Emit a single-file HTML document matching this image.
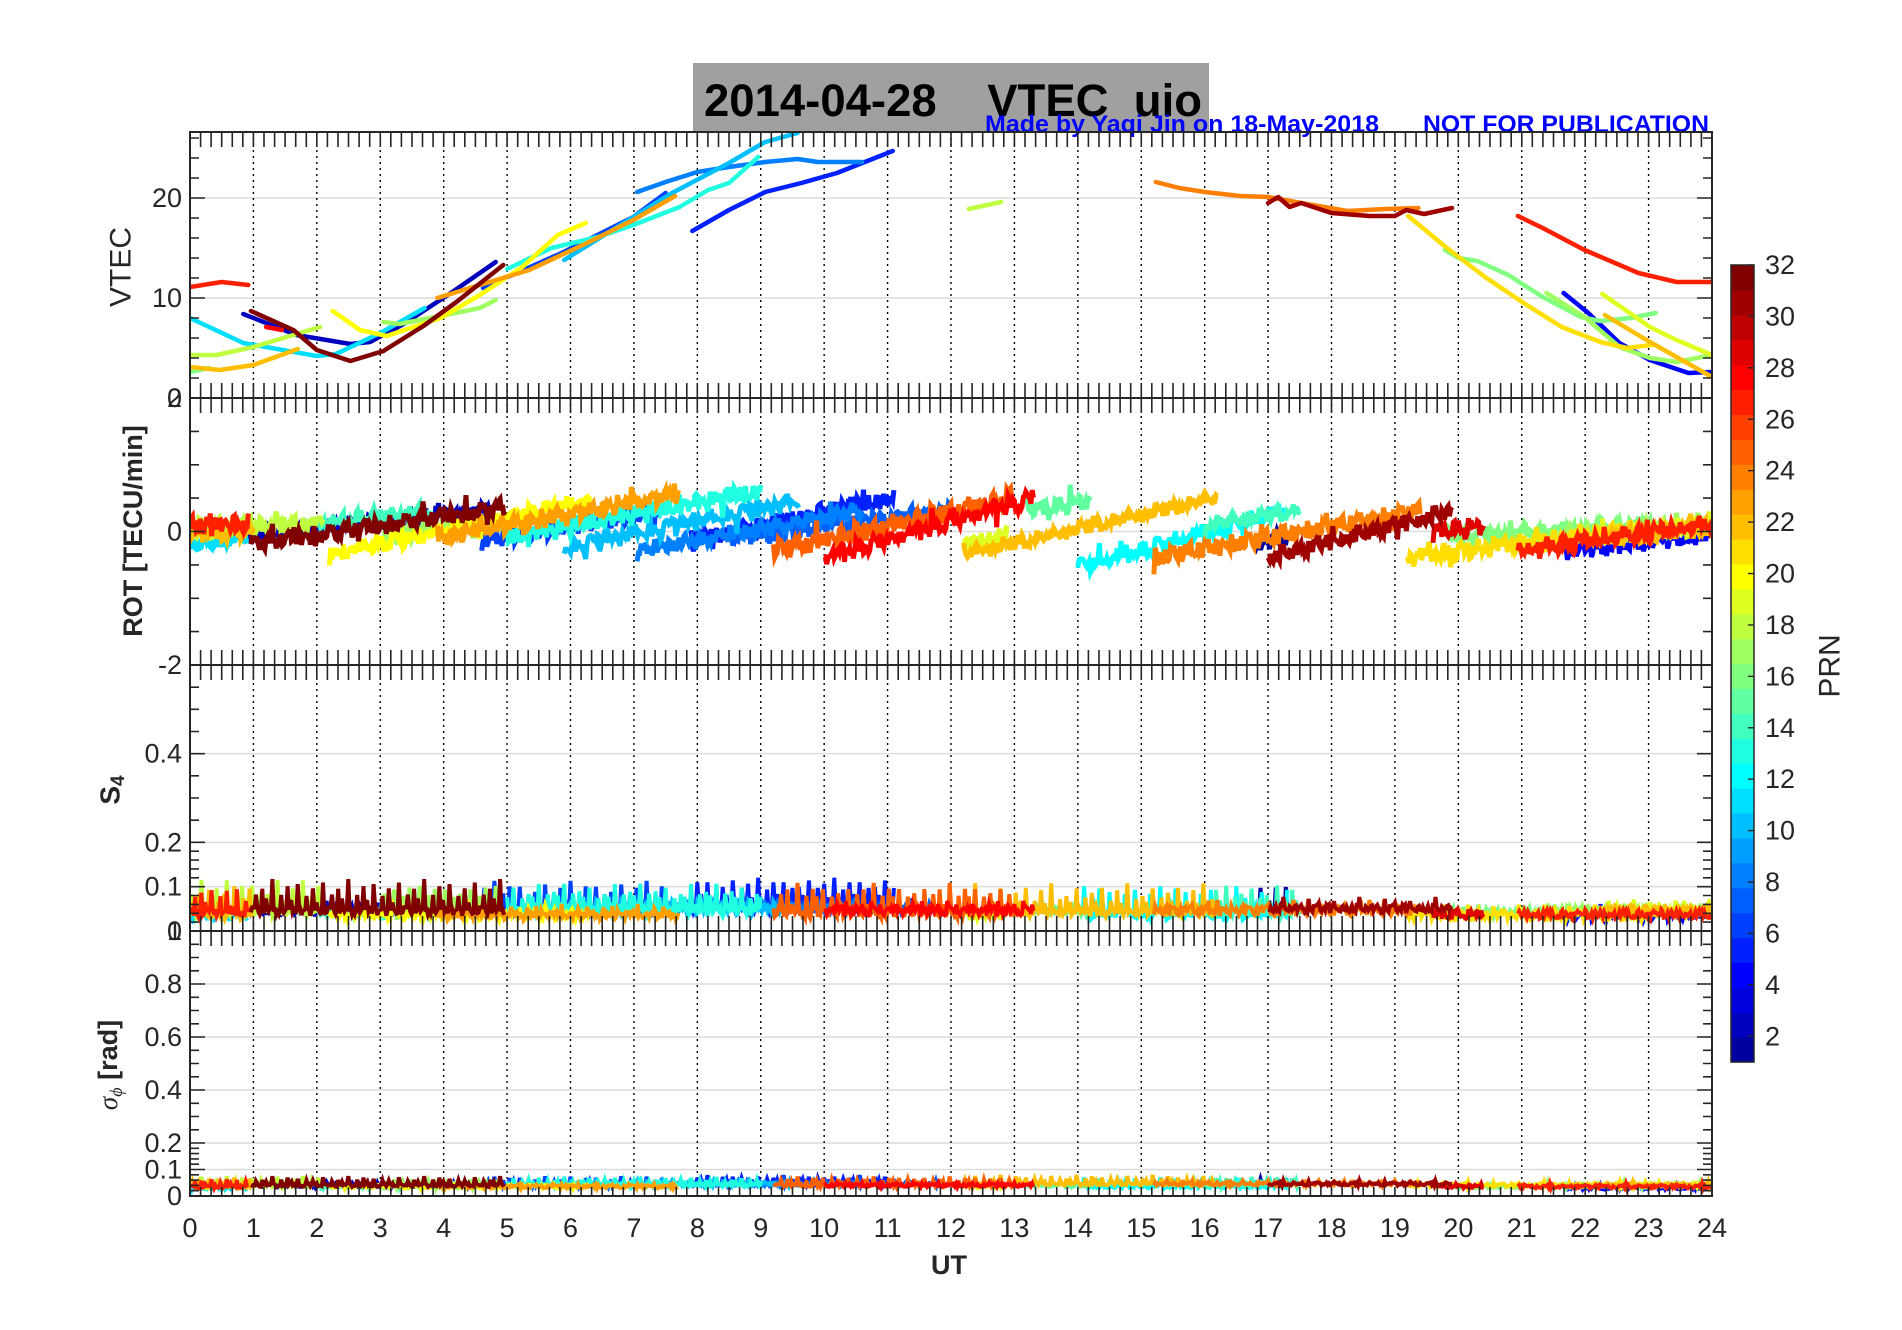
<!DOCTYPE html>
<html><head><meta charset="utf-8"><title>VTEC uio 2014-04-28</title>
<style>
html,body{margin:0;padding:0;background:#fff;}
svg{display:block;font-family:"Liberation Sans",Arial,sans-serif;}
</style></head>
<body>
<svg id="chart" width="1902" height="1330" viewBox="0 0 1902 1330" xmlns="http://www.w3.org/2000/svg">
  <rect x="0" y="0" width="1902" height="1330" fill="#fff"/>
  <g id="title-group">
    <rect x="693" y="63" width="516" height="70" fill="#a0a0a0"/>
    <text x="704" y="116" font-size="45" font-weight="bold" fill="#000" textLength="498" lengthAdjust="spacingAndGlyphs" xml:space="preserve">2014-04-28    VTEC  uio</text>
    <text x="985" y="132" font-size="24" font-weight="bold" fill="#0000ff" textLength="394" lengthAdjust="spacingAndGlyphs">Made by Yaqi Jin on 18-May-2018</text>
    <text x="1423" y="132" font-size="24" font-weight="bold" fill="#0000ff" textLength="286" lengthAdjust="spacingAndGlyphs">NOT FOR PUBLICATION</text>
  </g>
  <g id="grid"></g>
  <g id="data"></g>
  <g id="axes"></g>
  <g id="cbar"></g>
  <text x="121" y="267" font-size="30" fill="#262626" text-anchor="middle" transform="rotate(-90 121 267)" dominant-baseline="central">VTEC</text>
  <text x="133" y="531" font-size="27" font-weight="bold" fill="#262626" text-anchor="middle" transform="rotate(-90 133 531)" dominant-baseline="central">ROT [TECU/min]</text>
  <text x="110" y="790" font-size="28" font-weight="bold" fill="#262626" text-anchor="middle" transform="rotate(-90 110 790)" dominant-baseline="central">S<tspan font-size="19" dy="8">4</tspan></text>
  <text x="108" y="1065" font-size="27" fill="#262626" text-anchor="middle" transform="rotate(-90 108 1065)" dominant-baseline="central"><tspan font-family="Liberation Serif, serif" font-style="italic">σ</tspan><tspan font-size="18" dy="8" font-family="Liberation Serif, serif" font-style="italic">ϕ</tspan><tspan dy="-8" font-weight="bold"> [rad]</tspan></text>
  <text x="949" y="1274" font-size="27" font-weight="bold" fill="#262626" text-anchor="middle">UT</text>
  <text x="1830" y="666" font-size="30" fill="#262626" text-anchor="middle" transform="rotate(-90 1830 666)" dominant-baseline="central">PRN</text>
</svg>
<script>
// ---------- data ----------
const xTicks = [0,1,2,3,4,5,6,7,8,9,10,11,12,13,14,15,16,17,18,19,20,21,22,23,24];
const vtecTicks = [0,10,20];
const rotTicks = [-2,0,2];
const s4Ticks = [0,0.1,0.2,0.4];
const sigTicks = [0,0.1,0.2,0.4,0.6,0.8,1];
const cbarTicks = [2,4,6,8,10,12,14,16,18,20,22,24,26,28,30,32];

// VTEC arcs: PRN, times (h), values (TECU)
const vtecPrn = [27,11,18,22,16,2,28,32,20,17,23,6,13,10,8,5,18,24,31,21,16,27,4,17,19,22];
const vtecT = [
 [0,0.5,0.92],
 [0,0.84,2.0,2.3,3.0,3.7],
 [0,0.42,1.0,2.05],
 [0,0.47,1.0,1.7],
 [0,0.3],
 [0.84,1.68,2.53,2.84,3.37,4.16,4.82],
 [1.2,1.45],
 [0.96,1.63,2.0,2.53,3.05,3.68,4.2,4.94],
 [2.25,2.68,3.1,3.95,4.57,5.24,5.8,6.24],
 [3.05,3.3,3.95,4.57,4.82],
 [3.9,4.57,5.35,6.26,6.99,7.65],
 [4.62,5.86,6.99,7.5],
 [5.0,5.7,6.43,6.99,7.72,8.17,8.5,8.96],
 [5.9,6.99,7.6,8.5,8.85,9.07,9.58],
 [7.05,7.5,8.0,8.5,9.07,9.58,9.9,10.6],
 [7.92,8.5,9.07,9.64,10.2,11.08],
 [12.28,12.79],
 [15.23,15.6,16.0,16.56,17.0,17.52,18.25,18.85,19.37],
 [17.0,17.16,17.34,17.52,18.0,18.6,19.0,19.18,19.46,19.9],
 [19.21,19.82,20.42,21.03,21.63,22.24,22.66,23.05],
 [19.79,20.0,20.3,20.79,21.33,21.93,22.24,22.72,23.11],
 [20.94,21.33,21.99,22.84,23.44,23.99],
 [21.66,22.05,22.54,23.02,23.63,24],
 [21.39,21.99,22.54,23.02,23.44,24],
 [22.27,23.02,23.44,24],
 [22.31,23.02,24]
];
const vtecV = [
 [11.1,11.6,11.3],
 [8.0,5.5,4.2,4.4,6.5,9.0],
 [4.3,4.3,5.1,7.1],
 [3.1,2.8,3.3,4.9],
 [2.6,3.0],
 [8.4,6.3,5.4,5.6,7.4,10.7,13.6],
 [7.1,6.8],
 [8.7,6.8,4.8,3.7,4.7,7.2,9.6,13.3],
 [8.7,6.8,6.2,8.0,10.3,13.1,16.3,17.5],
 [7.6,7.4,8.2,9.0,9.8],
 [10.0,11.3,12.8,15.5,17.8,20.2],
 [11.0,14.5,18.1,20.5],
 [12.9,15.0,16.1,17.3,19.1,20.8,21.5,24.1],
 [13.8,18.1,20.5,23.5,24.8,25.6,26.5],
 [20.6,21.6,22.6,23.1,23.6,23.9,23.6,23.6],
 [16.7,18.8,20.6,21.5,22.5,24.7],
 [18.9,19.6],
 [21.6,21.0,20.6,20.2,20.1,19.5,18.7,18.9,19.0],
 [19.5,20.1,19.1,19.5,18.5,18.2,18.2,18.8,18.4,19.0],
 [18.2,15.0,12.1,9.5,7.1,5.6,5.0,5.3],
 [14.8,14.0,13.7,12.3,10.1,8.1,7.7,8.0,8.5],
 [18.2,17.0,14.8,12.5,11.6,11.6],
 [10.5,8.5,5.5,3.8,2.5,2.6],
 [10.5,8.1,5.1,4.0,3.6,4.3],
 [10.4,7.1,5.8,4.3],
 [8.3,5.6,2.1]
];

// Scintillation / ROT arcs (parallel arrays)
const arcPrn   = [27,22,11,18,2,32,20,14,17,23,13,10,6,8,5,7,25,28,19,22,15,12,24,14,31,1,21,16,29,27,4,17,19,22];
const arcStart = [0,0,0,0,0.85,0.96,2.2,2.0,3.0,3.9,5.0,5.9,4.6,7.05,7.9,8.5,9.2,10.0,12.2,12.2,13.2,14.0,15.2,16.0,17.0,16.8,19.2,19.8,19.6,20.94,21.66,21.39,22.27,22.31];
const arcEnd   = [0.92,1.0,0.9,2.1,4.8,4.95,6.3,3.8,4.9,7.7,9.0,9.6,7.5,10.6,11.1,12.0,13.0,13.3,12.9,16.2,14.2,17.3,19.4,17.5,19.9,17.3,23.05,23.1,20.4,24,24,24,24,24];
const rotStart = [0.1,-0.05,-0.2,0.05,-0.05,-0.2,-0.35,0.1,-0.05,-0.1,-0.1,-0.25,-0.15,-0.3,-0.15,-0.1,-0.3,-0.4,-0.2,-0.35,0.3,-0.55,-0.4,0.1,-0.4,-0.2,-0.4,-0.1,0.0,-0.3,-0.3,-0.1,-0.05,-0.1];
const rotEnd   = [0.1,0.0,-0.1,0.1,0.3,0.35,0.45,0.3,0.1,0.55,0.6,0.45,0.3,0.3,0.5,0.3,0.5,0.5,-0.1,0.5,0.45,0.3,0.3,0.3,0.3,-0.1,0.05,0.1,0.05,0.1,-0.05,0.1,0.1,0.05];
const s4Level  = [0.04,0.035,0.03,0.045,0.045,0.045,0.035,0.04,0.04,0.035,0.045,0.05,0.045,0.055,0.055,0.05,0.04,0.045,0.035,0.04,0.045,0.035,0.045,0.04,0.05,0.045,0.035,0.04,0.035,0.035,0.035,0.045,0.045,0.045];
const sigLevel = [0.035,0.035,0.03,0.04,0.04,0.04,0.035,0.035,0.035,0.035,0.04,0.045,0.04,0.045,0.045,0.045,0.04,0.04,0.035,0.045,0.04,0.035,0.045,0.04,0.045,0.04,0.04,0.035,0.035,0.035,0.03,0.04,0.04,0.04];

// fixed fluctuation pattern (read-like jitter sequence)
const jitter = [0.3,-0.6,0.9,-0.2,0.5,-0.9,0.1,0.7,-0.4,0.8,-0.7,0.2,-0.3,1.0,-0.5,0.4,-0.8,0.6,-0.1,0.9,
 -0.6,0.3,-1.0,0.5,0.0,-0.4,0.8,-0.2,0.6,-0.9,0.4,-0.3,0.7,-0.7,0.2,0.9,-0.5,0.1,-0.8,0.6,
 -0.2,0.5,-0.6,1.0,-0.1,0.3,-0.9,0.7,-0.4,0.2,0.8,-0.3,0.5,-0.7,0.0,0.6,-0.5,0.9,-0.1,0.4];
const spikes = [0,0,0.2,0,0,0.1,0,0,0,1.6,0,0,0.3,0,0,0,0.9,0,0,0.2,0,0,0,0,2.4,0,0.1,0,0,0,0.5,0,0,1.2,0,0,0,0.2,0,0,0,0.7,0,0,0,0.1,0,0,3.0,0,0,0.3,0,0,0,0.6,0,0,0.2,0];

// ---------- geometry ----------
const X0 = 190, X1 = 1712;
const panels = [
  {name:'vtec', top:132, bot:398, min:0, max:26.6},
  {name:'rot', top:398, bot:665, min:-2, max:2},
  {name:'s4', top:665, bot:931, min:0, max:0.6},
  {name:'sigma', top:931, bot:1196, min:0, max:1}
];
const xs = t => X0 + t*(X1-X0)/24;
const ys = (p,v) => p.bot - (v-p.min)/(p.max-p.min)*(p.bot-p.top);
const NS = 'http://www.w3.org/2000/svg';
function mk(tag, attrs, parent){
  const e = document.createElementNS(NS, tag);
  for (const k in attrs) e.setAttribute(k, attrs[k]);
  parent.appendChild(e); return e;
}
// MATLAB jet(32)
function jetMap(m){
  const n = Math.ceil(m/4), u=[];
  for(let i=1;i<=n;i++) u.push(i/n);
  for(let i=1;i<n;i++) u.push(1);
  for(let i=n;i>=1;i--) u.push(i/n);
  const J = Array.from({length:m},()=>[0,0,0]);
  const off = Math.ceil(n/2) - (m%4===1?1:0);
  for(let i=0;i<u.length;i++){
    const g = off+i+1, r=g+n, b=g-n;
    if(r>=1&&r<=m) J[r-1][0]=u[i];
    if(g>=1&&g<=m) J[g-1][1]=u[i];
    if(b>=1&&b<=m) J[b-1][2]=u[i];
  }
  return J.map(c=>`rgb(${Math.round(c[0]*255)},${Math.round(c[1]*255)},${Math.round(c[2]*255)})`);
}
const cmap = jetMap(32);
const col = prn => cmap[Math.max(1,Math.min(32,prn))-1];

const grid = document.getElementById('grid');
const data = document.getElementById('data');
const axes = document.getElementById('axes');
const cbar = document.getElementById('cbar');

// grid lines
const panelTicks = [vtecTicks, rotTicks, s4Ticks, sigTicks];
panels.forEach((p,pi)=>{
  panelTicks[pi].forEach(v=>{
    if (v===p.min || v===p.max) return;
    const l = mk('line',{x1:X0,x2:X1,y1:ys(p,v),y2:ys(p,v),stroke:'#dcdcdc','stroke-width':1.5},grid);
    
    
  });
  for(let h=1;h<24;h++){
    const l = mk('line',{x1:xs(h),x2:xs(h),y1:p.top,y2:p.bot,stroke:'#000','stroke-width':1.4,'stroke-dasharray':'2 4'},grid);
    
    
  }
});

// clip paths
const defs = mk('defs',{},document.getElementById('chart'));
panels.forEach((p,pi)=>{
  const cp = mk('clipPath',{id:'clip'+pi},defs);
  mk('rect',{x:X0,y:p.top,width:X1-X0,height:p.bot-p.top},cp);
});

// VTEC arcs
const vg = mk('g',{'clip-path':'url(#clip0)'},data);


const vOrder = vtecPrn.map((p,i)=>i).sort((a,b)=>vtecPrn[a]-vtecPrn[b]);
vOrder.forEach(i=>{
  const pts = vtecT[i].map((t,k)=>xs(t).toFixed(1)+','+ys(panels[0],vtecV[i][k]).toFixed(1)).join(' ');
  const pl = mk('polyline',{points:pts,fill:'none',stroke:col(vtecPrn[i]),'stroke-width':4.5,'stroke-linejoin':'round','stroke-linecap':'round'},vg);
  
  
});

// ROT / S4 / sigma arcs
const order = arcPrn.map((p,i)=>i).sort((a,b)=>arcPrn[a]-arcPrn[b]);
const rg = mk('g',{'clip-path':'url(#clip1)'},data);


const sg = mk('g',{'clip-path':'url(#clip2)'},data);


const qg = mk('g',{'clip-path':'url(#clip3)'},data);


const N = jitter.length;
order.forEach(i=>{
  const prn = arcPrn[i], t0 = arcStart[i], t1 = arcEnd[i];
  const steps = Math.max(2, Math.round((t1-t0)/0.02));
  const rp=[], sp=[], qp=[];
  for(let k=0;k<=steps;k++){
    const f = k/steps, t = t0+(t1-t0)*f;
    const j1 = jitter[(k*7+prn*3)%N], j2 = jitter[(k*13+prn*5+i)%N];
    const sk = spikes[(k*3+prn*11+i)%N];
    const r = rotStart[i]+(rotEnd[i]-rotStart[i])*f + 0.11*j1 + 0.06*j2 + (k%17===0?0.15*j2:0);
    rp.push(xs(t).toFixed(1)+','+ys(panels[1],r).toFixed(1));
    const s = s4Level[i] + 0.009*j1 + 0.005*j2 + 0.02*sk;
    sp.push(xs(t).toFixed(1)+','+ys(panels[2],s).toFixed(1));
    const q = sigLevel[i] + 0.006*j2 + 0.01*sk;
    qp.push(xs(t).toFixed(1)+','+ys(panels[3],q).toFixed(1));
  }
  const c = col(prn);
  const a = mk('polyline',{points:rp.join(' '),fill:'none',stroke:c,'stroke-width':5},rg);
  
  
  const b = mk('polyline',{points:sp.join(' '),fill:'none',stroke:c,'stroke-width':4},sg);
  
  
  const d = mk('polyline',{points:qp.join(' '),fill:'none',stroke:c,'stroke-width':4},qg);
  
  
});

// axes: boxes, ticks, labels
const minorSpecs = [
  v=>{const a=[];for(let x=0;x<=26.6;x+=2)a.push(x);return a;},
  v=>{const a=[];for(let x=-2;x<=2.001;x+=0.5)a.push(+x.toFixed(2));return a;},
  v=>{const a=[];for(let x=0;x<0.2;x+=0.02)a.push(+x.toFixed(2));for(let x=0.2;x<=0.6;x+=0.05)a.push(+x.toFixed(2));return a;},
  v=>{const a=[];for(let x=0;x<0.2;x+=0.02)a.push(+x.toFixed(2));for(let x=0.2;x<=1.0001;x+=0.05)a.push(+x.toFixed(2));return a;}
];
panels.forEach((p,pi)=>{
  const box = mk('rect',{x:X0,y:p.top,width:X1-X0,height:p.bot-p.top,fill:'none',stroke:'#262626','stroke-width':2},axes);
  
  
  let d='';
  const tl = 15, bl = pi===3?9:15;
  for(let k=0;k<=144;k++){
    const x = xs(k/6).toFixed(1);
    d += `M${x},${p.top}v${tl}M${x},${p.bot}v${-bl}`;
  }
  const majors = panelTicks[pi];
  minorSpecs[pi]().forEach(v=>{
    const y = ys(p,v).toFixed(1);
    const isMaj = majors.some(m=>Math.abs(m-v)<1e-6);
    const L = isMaj?15:9;
    d += `M${X0},${y}h${L}M${X1},${y}h${-L}`;
  });
  const tk = mk('path',{d:d,stroke:'#262626','stroke-width':1.6,fill:'none'},axes);
  
  
  majors.forEach(v=>{
    if (pi===2 && v===0.6) return;
    const t = mk('text',{x:X0-8,y:ys(p,v),'font-size':27,fill:'#262626','text-anchor':'end','dominant-baseline':'central'},axes);
    t.textContent = String(v);
    
    
  });
});
xTicks.forEach(h=>{
  const t = mk('text',{x:xs(h),y:1237,'font-size':27,fill:'#262626','text-anchor':'middle'},axes);
  t.textContent = String(h);
  
  
});

// colorbar
const CB = {x:1731, w:23, top:265, bot:1062};
for(let i=0;i<32;i++){
  const h = (CB.bot-CB.top)/32;
  const r = mk('rect',{x:CB.x,y:(CB.bot-(i+1)*h).toFixed(2),width:CB.w,height:(h+0.6).toFixed(2),fill:cmap[i]},cbar);
  
  
}
const cbBox = mk('rect',{x:CB.x,y:CB.top,width:CB.w,height:CB.bot-CB.top,fill:'none',stroke:'#262626','stroke-width':1.5},cbar);


const cy = v => CB.bot - (v-1)/31*(CB.bot-CB.top);
cbarTicks.forEach(v=>{
  const l = mk('line',{x1:CB.x+CB.w-6,x2:CB.x+CB.w,y1:cy(v),y2:cy(v),stroke:'#262626','stroke-width':1.4},cbar);
  
  
  const t = mk('text',{x:1765,y:cy(v),'font-size':27,fill:'#262626','dominant-baseline':'central'},cbar);
  t.textContent = String(v);
  
  
});
</script>
</body></html>
